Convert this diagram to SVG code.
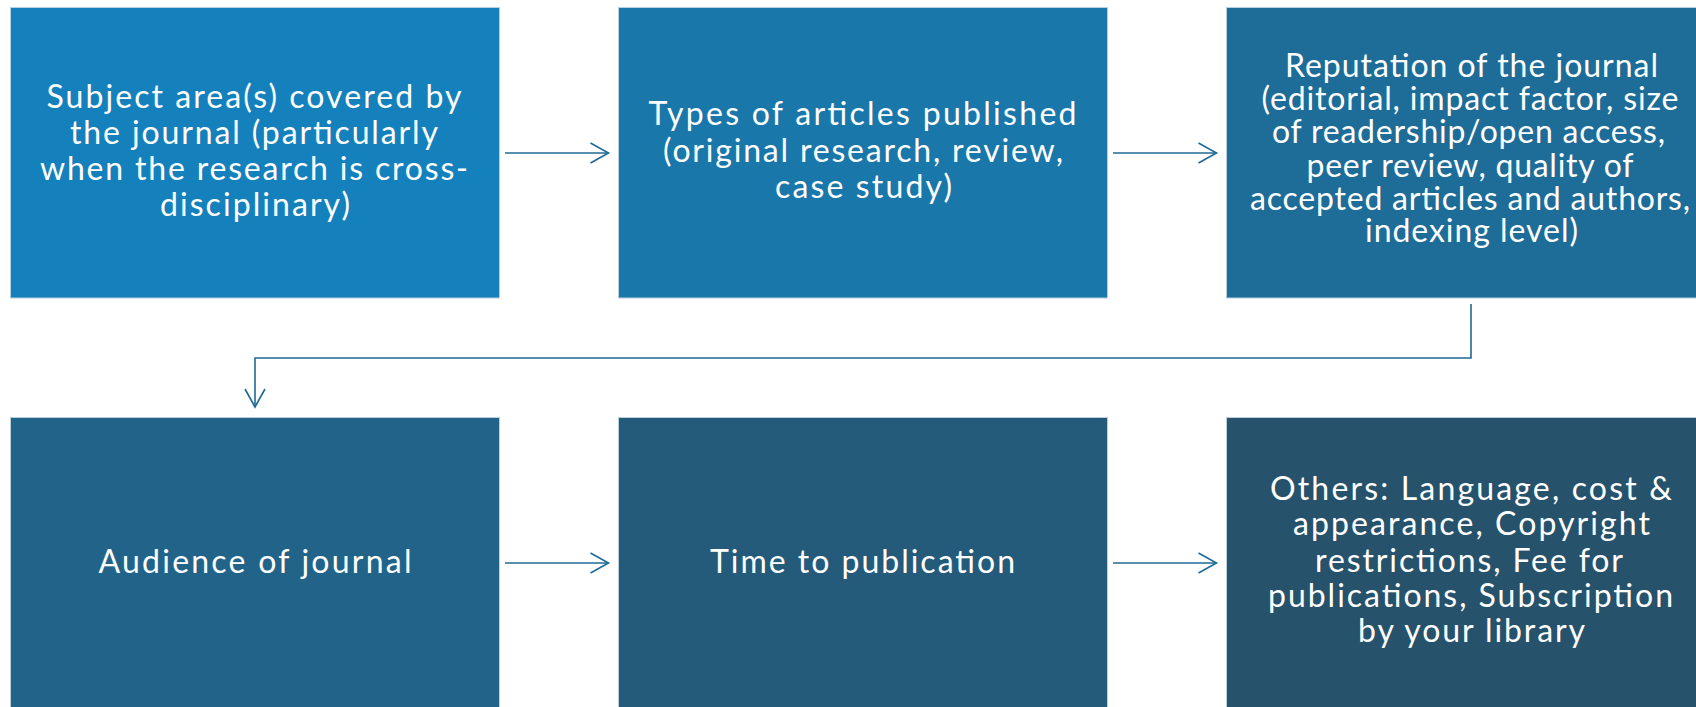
<svg xmlns="http://www.w3.org/2000/svg" width="1696" height="707" viewBox="0 0 1696 707">
<defs>
<style>
.box{stroke:#b9cfdc;stroke-width:1}
.t{fill:#ffffff;font-family:Lato,'Open Sans','Liberation Sans',Arial,sans-serif;font-size:32px;text-anchor:middle}
.c{fill:none;stroke:#1f6a96;stroke-width:1.6}
</style>
<marker id="ah" markerWidth="22" markerHeight="24" refX="19" refY="11" orient="auto" markerUnits="userSpaceOnUse">
<path d="M1,1 L19,11 L1,21" fill="none" stroke="#1f6a96" stroke-width="1.6"/>
</marker>
</defs>
<rect width="1696" height="707" fill="#ffffff"/>
<g id="node1">
<rect class="box" x="10.5" y="7.5" width="489" height="290.5" fill="#1481bd"/>
<text class="t" x="254" y="108" textLength="415">Subject area(s) covered by</text>
<text class="t" x="254" y="144" textLength="368">the journal (particularly</text>
<text class="t" x="254" y="180" textLength="428">when the research is cross-</text>
<text class="t" x="255" y="216" textLength="190">disciplinary)</text>
</g>
<g id="node2">
<rect class="box" x="618.5" y="7.5" width="489" height="290.5" fill="#1a77aa"/>
<text class="t" x="862.5" y="125" textLength="428">Types of articles published</text>
<text class="t" x="863" y="162" textLength="400">(original research, review,</text>
<text class="t" x="863.5" y="198" textLength="177">case study)</text>
</g>
<g id="node3">
<rect class="box" x="1226.5" y="7.5" width="489" height="290.5" fill="#1e6c98"/>
<text class="t" x="1471.5" y="77" textLength="373">Reputation of the journal</text>
<text class="t" x="1470" y="110" textLength="417">(editorial, impact factor, size</text>
<text class="t" x="1468.5" y="143" textLength="393">of readership/open access,</text>
<text class="t" x="1470" y="177" textLength="327">peer review, quality of</text>
<text class="t" x="1470" y="210" textLength="440">accepted articles and authors,</text>
<text class="t" x="1471.5" y="242" textLength="213">indexing level)</text>
</g>
<g id="node4">
<rect class="box" x="10.5" y="417.5" width="489" height="290.5" fill="#22638a"/>
<text class="t" x="255" y="573" textLength="313">Audience of journal</text>
</g>
<g id="node5">
<rect class="box" x="618.5" y="417.5" width="489" height="290.5" fill="#245a7a"/>
<text class="t" x="862.5" y="573" textLength="305">Time to publication</text>
</g>
<g id="node6">
<rect class="box" x="1226.5" y="417.5" width="489" height="290.5" fill="#26526c"/>
<text class="t" x="1471" y="500" textLength="402">Others: Language, cost &amp;</text>
<text class="t" x="1471.5" y="535" textLength="357">appearance, Copyright</text>
<text class="t" x="1469" y="572" textLength="308">restrictions, Fee for</text>
<text class="t" x="1470.5" y="607" textLength="405">publications, Subscription</text>
<text class="t" x="1471.5" y="642" textLength="227">by your library</text>
</g>
<g id="connectors">
<line class="c" x1="505" y1="153" x2="608.5" y2="153" marker-end="url(#ah)"/>
<line class="c" x1="1113" y1="153" x2="1216.5" y2="153" marker-end="url(#ah)"/>
<polyline class="c" points="1471,304 1471,358 255,358 255,407" marker-end="url(#ah)"/>
<line class="c" x1="505" y1="563" x2="608.5" y2="563" marker-end="url(#ah)"/>
<line class="c" x1="1113" y1="563" x2="1216.5" y2="563" marker-end="url(#ah)"/>
</g>
</svg>
